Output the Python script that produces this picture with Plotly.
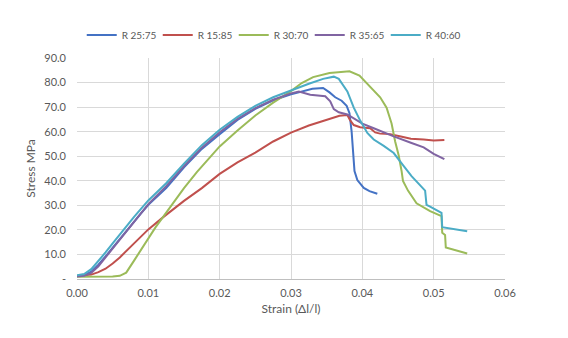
import plotly.graph_objects as go

# R 25:75
strain_25 = [0, 0.001, 0.002, 0.003, 0.004, 0.005, 0.006, 0.007, 0.008, 0.009, 0.010,
             0.0125, 0.015, 0.0175, 0.020, 0.0225, 0.025, 0.0275, 0.030, 0.0315, 0.033,
             0.0345, 0.0354, 0.0362, 0.0371, 0.0378, 0.0382, 0.0385, 0.0387, 0.0389,
             0.0393, 0.0402, 0.0410, 0.0421]
stress_25 = [1.2, 1.5, 3.0, 5.8, 9.2, 12.8, 16.2, 19.8, 23.3, 26.8, 30.2,
             37.0, 45.5, 53.0, 59.0, 64.8, 69.3, 72.8, 75.2, 76.5, 77.5,
             77.8, 76.0, 74.0, 72.6, 70.5, 67.5, 60.0, 50.0, 44.0,
             40.3, 37.1, 35.8, 34.7]

# R 15:85
strain_15 = [0, 0.001, 0.002, 0.003, 0.004, 0.005, 0.006, 0.008, 0.010, 0.012, 0.015,
             0.0175, 0.020, 0.0225, 0.025, 0.0275, 0.030, 0.0325, 0.035, 0.0368, 0.0379,
             0.0383, 0.0388, 0.0397, 0.0411, 0.0418, 0.0425, 0.0439, 0.0454, 0.0468,
             0.0486, 0.050, 0.0515]
stress_15 = [1.2, 1.4, 1.8, 2.8, 4.2, 6.3, 8.8, 14.5, 20.2, 25.0, 31.8,
             37.0, 42.8, 47.5, 51.5, 56.0, 59.6, 62.5, 65.0, 66.5, 66.8,
             64.6, 62.7, 61.8, 61.4, 59.7, 59.2, 59.0, 58.0, 57.1,
             56.8, 56.4, 56.6]

# R 30:70
strain_30 = [0, 0.002, 0.004, 0.005, 0.006, 0.0069, 0.008, 0.009, 0.010, 0.011, 0.012,
             0.0135, 0.015, 0.0168, 0.0185, 0.020, 0.0225, 0.025, 0.0275, 0.0284, 0.030,
             0.0315, 0.0331, 0.0354, 0.0382, 0.0396, 0.0409, 0.0415, 0.0425, 0.0434,
             0.0441, 0.0446, 0.0451, 0.0455, 0.0457, 0.0464, 0.0476, 0.0495, 0.0511,
             0.0512, 0.0516, 0.0517, 0.0547]
stress_30 = [0.9, 0.9, 0.9, 1.0, 1.3, 2.6, 7.5, 12.0, 16.9, 21.0, 25.0,
             31.0, 37.0, 43.5, 49.2, 54.0, 60.5, 66.6, 71.8, 73.5, 76.5,
             79.8, 82.2, 83.9, 84.6, 82.8, 78.9, 77.0, 74.0, 69.8,
             63.3, 56.0, 50.3, 44.0, 39.9, 36.0, 30.8, 27.6, 25.6,
             18.8, 17.9, 12.8, 10.4]

# R 35:65
strain_35 = [0, 0.001, 0.002, 0.003, 0.004, 0.005, 0.006, 0.007, 0.008, 0.009, 0.010,
             0.0125, 0.015, 0.0175, 0.020, 0.0225, 0.025, 0.0275, 0.030, 0.0311, 0.0327,
             0.0348, 0.0355, 0.036, 0.0367, 0.0379, 0.0388, 0.040, 0.0416, 0.043, 0.0444,
             0.0468, 0.0486, 0.050, 0.0515]
stress_35 = [1.0, 1.3, 2.5, 5.2, 8.8, 12.5, 16.2, 19.8, 23.4, 27.0, 30.5,
             37.8, 46.0, 53.5, 59.8, 65.2, 69.6, 73.0, 75.6, 76.3, 75.0,
             74.4, 72.4, 69.2, 67.9, 67.0, 65.3, 63.3, 61.4, 59.7, 58.1,
             55.5, 53.6, 51.0, 48.8]

# R 40:60
strain_40 = [0, 0.001, 0.002, 0.003, 0.004, 0.005, 0.006, 0.007, 0.008, 0.009, 0.010,
             0.0125, 0.015, 0.0175, 0.020, 0.0225, 0.025, 0.0275, 0.030, 0.0325, 0.0345,
             0.036, 0.0367, 0.0379, 0.0388, 0.0397, 0.0407, 0.0416, 0.043, 0.0444, 0.0457,
             0.0469, 0.0488, 0.049, 0.0495, 0.0511, 0.0512, 0.0547]
stress_40 = [1.5, 2.0, 4.0, 7.2, 10.8, 14.5, 18.2, 21.8, 25.3, 28.7, 32.0,
             39.0, 47.0, 54.5, 60.8, 66.0, 70.5, 74.0, 76.8, 79.5, 81.5,
             82.4, 81.5, 76.4, 69.8, 64.5, 59.5, 56.8, 54.2, 51.3, 46.4,
             41.9, 36.0, 30.2, 29.5, 26.9, 21.1, 19.4]

series = [
    ("R 25:75", strain_25, stress_25, "#4472C4"),
    ("R 15:85", strain_15, stress_15, "#C0504D"),
    ("R 30:70", strain_30, stress_30, "#9BBB59"),
    ("R 35:65", strain_35, stress_35, "#8064A2"),
    ("R 40:60", strain_40, stress_40, "#4BACC6"),
]

x_ticks = [0, 0.01, 0.02, 0.03, 0.04, 0.05, 0.06]
y_ticks = [0, 10, 20, 30, 40, 50, 60, 70, 80, 90]
y_tick_text = ["-"] + [f"{v:.1f}" for v in y_ticks[1:]]

fig = go.Figure()
for name, xs, ys, color in series:
    fig.add_trace(go.Scatter(x=xs, y=ys, name=name, mode="lines",
                             line=dict(color=color, width=2)))

grey = "#595959"
# the page body has an 8px margin, so the plot box is pulled up/left by 8px
fig.update_layout(
    width=568, height=338,
    margin=dict(l=69, r=71, t=40, b=67),
    paper_bgcolor="white", plot_bgcolor="white",
    font=dict(family="Lato", size=11, color=grey),
    legend=dict(orientation="h", x=0.455, xanchor="center", y=1.104, yanchor="middle",
                font=dict(size=10, color=grey), itemwidth=30, tracegroupgap=0,
                entrywidth=31, entrywidthmode="pixels"),
    showlegend=True,
)
fig.update_xaxes(range=[0, 0.06], tickvals=x_ticks, tickformat=".2f",
                 showgrid=True, gridcolor="#D9D9D9", gridwidth=1,
                 showline=True, linecolor="#BFBFBF", zeroline=False,
                 ticks="", ticklabelstandoff=4, automargin=False,
                 title=dict(text="Strain (Δl/l)", font=dict(size=12, color=grey), standoff=6))
fig.update_yaxes(range=[0, 90], tickvals=y_ticks, ticktext=y_tick_text,
                 showgrid=True, gridcolor="#D9D9D9", gridwidth=1,
                 showline=False, zeroline=False, ticks="",
                 ticklabelstandoff=10, automargin=False,
                 title=dict(text="Stress MPa", font=dict(size=12, color=grey), standoff=6))

fig.write_html("out.html")
